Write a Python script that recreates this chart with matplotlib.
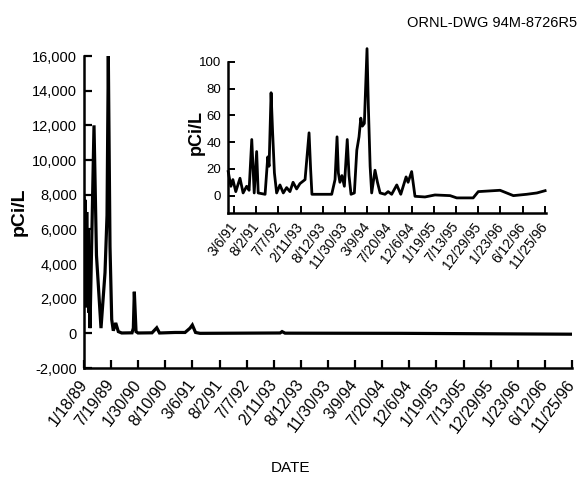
import matplotlib
matplotlib.use("Agg")
import matplotlib.pyplot as plt
import numpy as np

plt.rcParams['font.family'] = ['Liberation Sans', 'DejaVu Sans']

# ---- main chart data (x = position along the date-tick axis, y = pCi/L) ----
main_dates = ["1/18/89", "7/19/89", "1/30/90", "8/10/90", "3/6/91", "8/2/91",
              "7/7/92", "2/11/93", "8/12/93", "11/30/93", "3/9/94", "7/20/94",
              "12/6/94", "1/19/95", "7/13/95", "12/29/95", "1/23/96", "6/12/96",
              "11/25/96"]
main_x = [0.0, 0.025, 0.05, 0.075, 0.1, 0.125, 0.15, 0.175, 0.2, 0.221,
          0.369, 0.46, 0.627,
          0.775, 0.849, 0.897, 0.959, 1.022, 1.081, 1.17, 1.266, 1.391, 1.771,
          1.82, 1.856, 1.919, 1.993, 2.509, 2.683, 2.786, 3.358, 3.727, 3.911,
          3.996, 4.114, 4.28, 7.232, 7.306, 7.417, 11.66, 18.0]
main_y = [7800, 2500, 7700, 1500, 7000, 3000, 6000, 1200, 4000, 300,
          12000, 4500, 300,
          3500, 6800, 16000, 5000, 800, 150, 600, 100, 20, 30,
          300, 2400, 100, 20, 30, 320, 20, 50, 50, 300,
          480, 50, 0, 20, 100, 10, 0, -50]
main_yticks = [-2000, 0, 2000, 4000, 6000, 8000, 10000, 12000, 14000, 16000]

# ---- inset data (3/6/91 onward) ----
inset_dates = main_dates[4:]
inset_x = [-0.26, -0.14, -0.05, 0.08, 0.27, 0.41, 0.57, 0.68, 0.80, 0.91,
           1.02, 1.09, 1.40, 1.52, 1.58, 1.67, 1.74, 1.82, 1.92, 2.07,
           2.22, 2.37, 2.52, 2.66, 2.82, 2.97, 3.20, 3.38, 3.45, 3.51,
           4.40, 4.55, 4.64, 4.70, 4.77, 4.86, 4.97, 5.10, 5.18, 5.27,
           5.42, 5.53, 5.63, 5.71, 5.78, 5.87, 5.99, 6.05, 6.13, 6.20,
           6.35, 6.46, 6.58, 6.80, 6.94, 7.10, 7.33, 7.51, 7.75, 7.84,
           8.00, 8.15, 8.60, 9.05, 9.73, 10.03, 10.77, 11.00, 11.98, 12.28,
           12.58, 13.18, 13.64, 14.01]
inset_y = [18, 7, 12, 3, 13, 2, 7, 4, 42, 2,
           33, 2, 1, 29, 22, 77, 47, 17, 2, 8,
           2, 6, 3, 10, 5, 9, 12, 47, 20, 1,
           1, 12, 44, 17, 10, 15, 7, 42, 15, 1,
           2, 34, 44, 58, 52, 54, 110, 67, 22, 2,
           19, 10, 2, 1, 3, 1, 8, 1, 14, 10,
           18, -0.5, -1, 0.5, 0, -1.7, -1.7, 3, 4, 2,
           0, 1, 2, 3.7]
inset_yticks = [0, 20, 40, 60, 80, 100]

W, H = 580, 478
fig = plt.figure(figsize=(W / 100, H / 100), dpi=100)
fig.patch.set_facecolor('white')

# main axes
ax = fig.add_axes([84 / W, 1 - 368 / H, (572 - 84) / W, (368 - 56) / H])
ax.plot(main_x, main_y, color='black', lw=2.3, solid_joinstyle='miter')
ax.set_xlim(0, len(main_dates) - 1)
ax.set_ylim(-2000, 16000)
ax.set_xticks(np.arange(len(main_dates)))
ax.set_xticklabels(main_dates, rotation=53, ha='right', va='center',
                   rotation_mode='anchor', fontsize=11.5)
ax.set_yticks(main_yticks)
ax.set_yticklabels([f"{v:,}" for v in main_yticks], fontsize=10.5)
ax.tick_params(direction='in', length=6, width=1.6)
ax.tick_params(axis='x', pad=10)
ax.tick_params(axis='y', pad=5)
for s in ['top', 'right']:
    ax.spines[s].set_visible(False)
for s in ['left', 'bottom']:
    ax.spines[s].set_linewidth(1.8)
ax.set_facecolor('none')
fig.text(19 / W, 1 - 212 / H, "pCi/L", rotation=90, ha='center', va='center',
         fontsize=14, fontweight='bold')
fig.text(290 / W, 1 - 468 / H, "DATE", ha='center', va='center', fontsize=11)
fig.text(577 / W, 1 - 23 / H, "ORNL-DWG 94M-8726R5", ha='right', va='center',
         fontsize=10.5)

# inset axes
ins = fig.add_axes([228 / W, 1 - 213 / H, (546 - 228) / W, (213 - 62) / H])
ins.plot(inset_x, inset_y, color='black', lw=2.0, clip_on=False)
ins.set_xlim(-0.27, 14.05)
ins.set_ylim(-13, 100)
ins.set_xticks(np.arange(len(inset_dates)))
ins.set_xticklabels(inset_dates, rotation=53, ha='right', va='center',
                    rotation_mode='anchor', fontsize=10)
ins.set_yticks(inset_yticks)
ins.tick_params(axis='y', labelsize=9.5, pad=5)
ins.tick_params(axis='x', pad=8)
ins.tick_params(direction='in', length=5, width=1.4)
for s in ['top', 'right']:
    ins.spines[s].set_visible(False)
for s in ['left', 'bottom']:
    ins.spines[s].set_linewidth(1.8)
ins.set_facecolor('none')
fig.text(196 / W, 1 - 133 / H, "pCi/L", rotation=90, ha='center', va='center',
         fontsize=13, fontweight='bold')

fig.savefig("out.png", dpi=100, facecolor='white')
